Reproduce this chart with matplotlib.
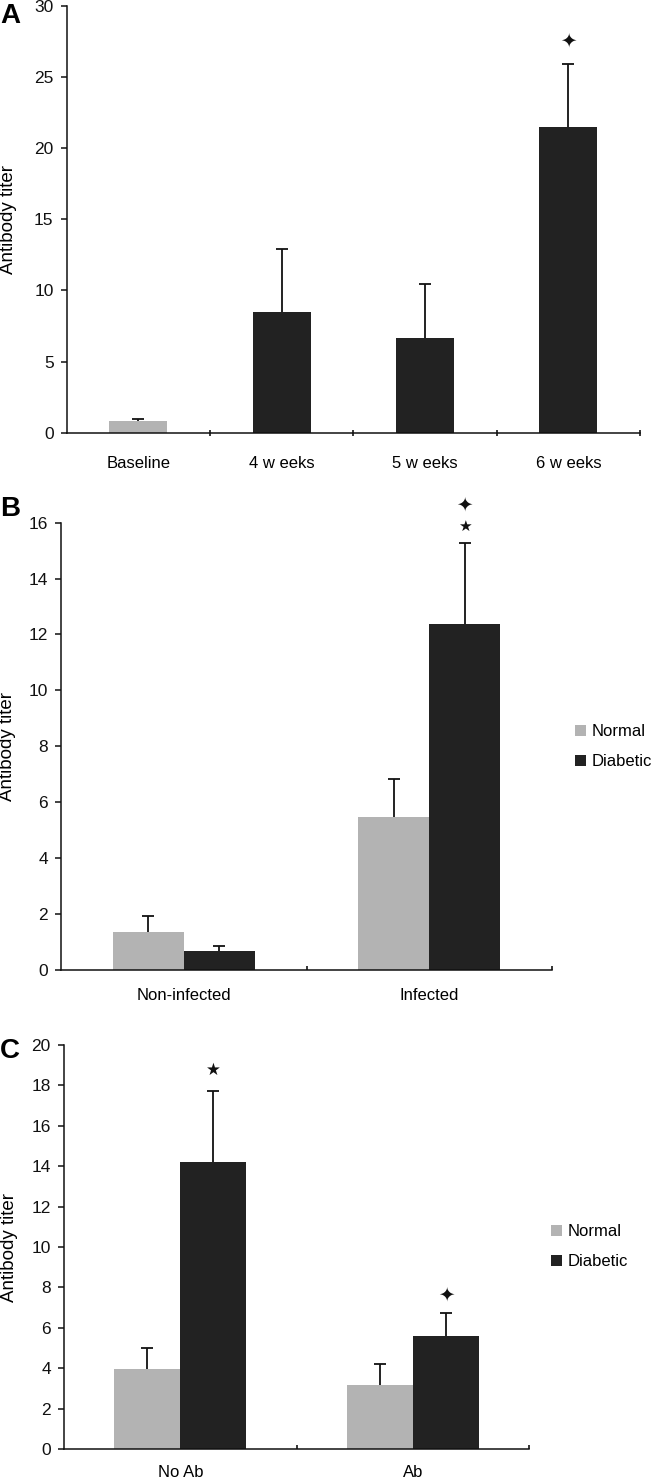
import matplotlib
matplotlib.use("Agg")
import matplotlib.pyplot as plt
import numpy as np

plt.rcParams['font.family'] = ['Liberation Sans', 'DejaVu Sans']

# ---- Data ----
a_labels = ["Baseline", "4 w eeks", "5 w eeks", "6 w eeks"]
a_values = [0.8, 8.46, 6.68, 21.5]
a_errors = [0.15, 4.47, 3.79, 4.4]
a_colors = ["#b3b3b3", "#222222", "#222222", "#222222"]

b_labels = ["Non-infected", "Infected"]
b_normal = [1.35, 5.45]
b_normal_err = [0.57, 1.36]
b_diabetic = [0.66, 12.37]
b_diabetic_err = [0.19, 2.9]

c_labels = ["No Ab", "Ab"]
c_normal = [3.96, 3.17]
c_normal_err = [1.02, 1.04]
c_diabetic = [14.19, 5.59]
c_diabetic_err = [3.55, 1.13]

series_names = ["Normal", "Diabetic"]
GRAY = "#b3b3b3"
DARK = "#222222"

W, H = 654, 1482
fig = plt.figure(figsize=(W / 100, H / 100), dpi=100)

def ax_px(left, right, top, bottom):
    return fig.add_axes([left / W, (H - bottom) / H, (right - left) / W, (bottom - top) / H])

def style(ax, n, ylim, yticks, tickdir, xpad):
    for s in ["top", "right"]:
        ax.spines[s].set_visible(False)
    for s in ["left", "bottom"]:
        ax.spines[s].set_linewidth(1.1)
        ax.spines[s].set_color("#111111")
    ax.set_xlim(0, n)
    ax.set_ylim(*ylim)
    ax.set_yticks(yticks)
    ax.tick_params(axis="y", direction="out", length=4.5, width=1.1, labelsize=12.5, pad=5, colors="#111111")
    ax.set_xticks(np.arange(1, n + 1))
    ax.set_xticklabels([])
    ax.tick_params(axis="x", which="major", direction=tickdir, length=5 if tickdir == "inout" else 3, width=1.1)
    ax.set_xticks(np.arange(n) + 0.5, minor=True)
    ax.tick_params(axis="x", which="minor", length=0, labelsize=12, pad=xpad)
    ax.set_ylabel("Antibody titer", fontsize=13.5)

def mark(ax, x, y, glyph, dy_px, size):
    ax.annotate(glyph, xy=(x, y), xytext=(0, dy_px * 0.72), textcoords="offset points",
                ha="center", va="center", fontsize=size, family="DejaVu Sans",
                annotation_clip=False, color="#111111")

err_kw = dict(fmt="none", ecolor="#111111", elinewidth=1.3, capsize=4.3, capthick=1.3, zorder=1)

# ---- Panel A ----
axA = ax_px(66.8, 640, 6, 432.7)
xa = np.arange(len(a_labels)) + 0.5
axA.bar(xa, a_values, width=0.405, color=a_colors, zorder=2)
axA.errorbar(xa, a_values, yerr=a_errors, **err_kw)
style(axA, len(a_labels), (0, 30), np.arange(0, 31, 5), "inout", 17)
axA.set_xticklabels(a_labels, minor=True)
axA.yaxis.set_label_coords(-0.087, 0.5)
mark(axA, xa[3], a_values[3] + a_errors[3], "\u2726", 23, 14)

# ---- Panel B ----
axB = ax_px(61, 552, 522.7, 969.5)
xb = np.arange(len(b_labels)) + 0.5
bw = 0.29
axB.bar(xb - bw / 2, b_normal, width=bw, color=GRAY, label=series_names[0], zorder=2)
axB.bar(xb + bw / 2, b_diabetic, width=bw, color=DARK, label=series_names[1], zorder=2)
axB.errorbar(xb - bw / 2, b_normal, yerr=b_normal_err, **err_kw)
axB.errorbar(xb + bw / 2, b_diabetic, yerr=b_diabetic_err, **err_kw)
style(axB, len(b_labels), (0, 16), np.arange(0, 17, 2), "in", 13)
axB.set_xticklabels(b_labels, minor=True)
axB.yaxis.set_label_coords(-0.092, 0.5)
topB = b_diabetic[1] + b_diabetic_err[1]
mark(axB, xb[1] + bw / 2, topB, "\u2605", 16.6, 11)
mark(axB, xb[1] + bw / 2, topB, "\u2726", 38, 14)
axB.legend(loc="center left", bbox_to_anchor=(575 / W, (H - 747) / H), bbox_transform=fig.transFigure,
           frameon=False, fontsize=12, handlelength=0.65, handleheight=0.65, handletextpad=0.35,
           labelspacing=0.9, borderpad=0, borderaxespad=0)

# ---- Panel C ----
axC = ax_px(64, 529.4, 1045, 1449)
xc = np.arange(len(c_labels)) + 0.5
cw = 0.283
axC.bar(xc - cw / 2, c_normal, width=cw, color=GRAY, label=series_names[0], zorder=2)
axC.bar(xc + cw / 2, c_diabetic, width=cw, color=DARK, label=series_names[1], zorder=2)
axC.errorbar(xc - cw / 2, c_normal, yerr=c_normal_err, **err_kw)
axC.errorbar(xc + cw / 2, c_diabetic, yerr=c_diabetic_err, **err_kw)
style(axC, len(c_labels), (0, 20), np.arange(0, 21, 2), "in", 11.5)
axC.set_xticklabels(c_labels, minor=True)
axC.yaxis.set_label_coords(-0.098, 0.5)
mark(axC, xc[0] + cw / 2, c_diabetic[0] + c_diabetic_err[0], "\u2605", 21, 12)
mark(axC, xc[1] + cw / 2, c_diabetic[1] + c_diabetic_err[1], "\u2726", 18, 14)
axC.legend(loc="center left", bbox_to_anchor=(551 / W, (H - 1247) / H), bbox_transform=fig.transFigure,
           frameon=False, fontsize=12, handlelength=0.65, handleheight=0.65, handletextpad=0.35,
           labelspacing=0.9, borderpad=0, borderaxespad=0)

# ---- Panel letters ----
for letter, ytop in [("A", 3), ("B", 496), ("C", 1038)]:
    fig.text(0 / W, 1 - ytop / H, letter, ha="left", va="top", fontsize=20, fontweight="bold")

fig.savefig("out.png", dpi=100, facecolor="white")
